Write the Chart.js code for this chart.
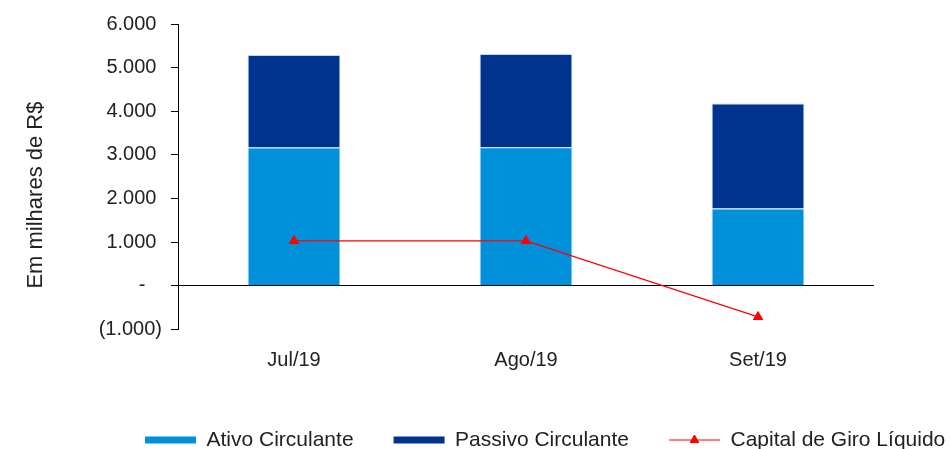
<!DOCTYPE html>
<html>
<head>
<meta charset="utf-8">
<script src="https://cdn.jsdelivr.net/npm/chart.js@4/dist/chart.umd.min.js"></script>
<style>
  body { margin: 0; background: #fff; }
  #wrap { width: 951px; height: 449px; }
</style>
</head>
<body>
<div id="wrap"><canvas id="chart"></canvas></div>
<script>
// data (thousands of R$)
const months = ['Jul/19', 'Ago/19', 'Set/19'];
const ativoCirculante = [3170, 3176, 1770];
const passivoCirculante = [2120, 2135, 2410];
const capitalGiro = [1030, 1030, -710];

const textColor = '#222';
const fontFamily = '"Liberation Sans", Arial, sans-serif';

// Excel accounting style: 6.000 / - / (1.000)
function fmt(v) {
  if (v === 0) return '-   ';
  const s = Math.abs(v).toFixed(0).replace(/\B(?=(\d{3})+(?!\d))/g, '.');
  return v < 0 ? '(' + s + ')' : s + ' ';
}

// moves the legend to where the original sits and puts a triangle on the line sample
const legendTweaks = {
  id: 'legendTweaks',
  afterLayout(chart) {
    const lg = chart.legend;
    const dx = 105 - lg.left;
    lg.left += dx;
    lg.right += dx;
  },
  afterDraw(chart) {
    const lg = chart.legend;
    const box = lg.legendHitBoxes[2];
    if (!box) return;
    const ctx = chart.ctx;
    ctx.save();
    ctx.fillStyle = '#ff0000';
    ctx.strokeStyle = '#ff0000';
    Chart.helpers.drawPoint(ctx, { pointStyle: 'triangle', radius: 5, borderWidth: 1 },
      box.left + lg.options.labels.pointStyleWidth / 2, box.top + box.height / 2);
    ctx.restore();
  }
};

new Chart(document.getElementById('chart'), {
  type: 'bar',
  data: {
    labels: months,
    datasets: [
      {
        label: 'Ativo Circulante',
        data: ativoCirculante,
        backgroundColor: '#0091da',
        borderColor: '#b9dbf3',
        borderWidth: 1,
        stack: 'bars',
        order: 1
      },
      {
        label: 'Passivo Circulante',
        data: passivoCirculante,
        backgroundColor: '#00338d',
        borderColor: '#b9dbf3',
        borderWidth: 1,
        stack: 'bars',
        order: 1
      },
      {
        type: 'line',
        label: 'Capital de Giro Líquido',
        data: capitalGiro,
        borderColor: '#ff0000',
        backgroundColor: '#ff0000',
        borderWidth: 1.2,
        pointStyle: 'triangle',
        pointRadius: 5,
        stack: 'line',
        order: 0
      }
    ]
  },
  options: {
    responsive: true,
    maintainAspectRatio: false,
    animation: false,
    layout: { padding: { top: 24, left: 0, right: 0, bottom: -11.5 } },
    datasets: { bar: { categoryPercentage: 1, barPercentage: 0.4 } },
    scales: {
      x: {
        stacked: true,
        grid: { display: false },
        border: { display: false },
        ticks: { color: textColor, padding: 11, font: { family: fontFamily, size: 20 } },
        afterFit(scale) { scale.height = 60; }
      },
      y: {
        stacked: true,
        min: -1000,
        max: 6000,
        border: { display: true, color: '#000', width: 1 },
        grid: {
          color: (c) => (c.tick && c.tick.value === 0 ? '#000' : 'transparent'),
          tickColor: '#000',
          tickLength: 7,
          lineWidth: 1
        },
        ticks: {
          stepSize: 1000,
          color: textColor,
          padding: 9,
          font: { family: fontFamily, size: 20 },
          callback: (v) => fmt(v)
        },
        title: {
          display: true,
          // trailing spaces push the centred title down like in the original
          text: 'Em milhares de R$      ',
          color: textColor,
          padding: { top: 23, bottom: 0 },
          font: { family: fontFamily, size: 22 }
        },
        afterFit(scale) { scale.width = 178; }
      },
      spacer: {
        position: 'right',
        display: true,
        grid: { display: false },
        border: { display: false },
        ticks: { display: false },
        afterFit(scale) { scale.width = 77; }
      }
    },
    plugins: {
      tooltip: { enabled: false },
      legend: {
        position: 'bottom',
        align: 'start',
        labels: {
          color: textColor,
          font: { family: fontFamily, size: 21 },
          usePointStyle: true,
          pointStyleWidth: 51,
          boxHeight: 7,
          padding: 40,
          generateLabels(chart) {
            return chart.data.datasets.map((ds, i) => ({
              text: ds.label,
              datasetIndex: i,
              fillStyle: ds.backgroundColor,
              strokeStyle: ds.type === 'line' ? ds.borderColor : ds.backgroundColor,
              lineWidth: ds.type === 'line' ? 1 : 0,
              pointStyle: ds.type === 'line' ? 'line' : 'rect',
              fontColor: textColor,
              hidden: false
            }));
          }
        }
      }
    }
  },
  plugins: [legendTweaks]
});
</script>
</body>
</html>
